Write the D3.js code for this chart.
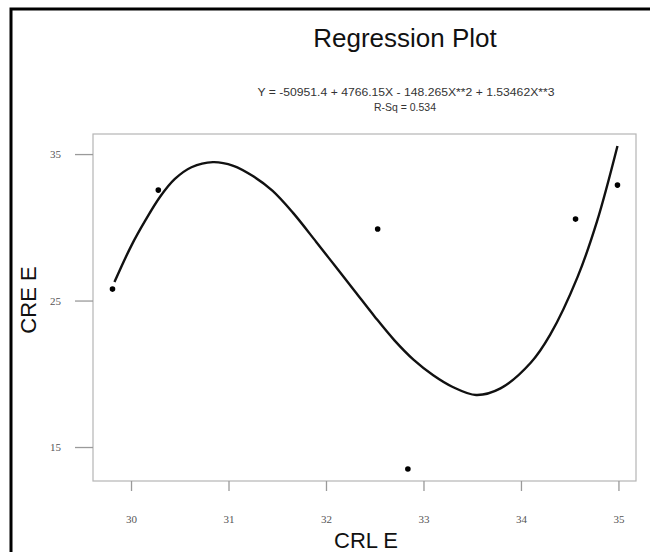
<!DOCTYPE html>
<html>
<head>
<meta charset="utf-8">
<script src="https://cdn.jsdelivr.net/npm/d3@7"></script>
<style>
  body { margin: 0; background: #fff; }
  svg { display: block; font-family: "Liberation Sans", Arial, sans-serif; }
</style>
</head>
<body>
<svg id="chart"></svg>
<script>
// observed points (CRL E, CRE E)
const crlE = [29.81, 30.28, 32.53, 32.84, 34.56, 34.99];
const creE = [25.78, 32.54, 29.88, 13.50, 30.56, 32.88];

// fitted cubic
const fitX = [29.83, 30.00, 30.15, 30.30, 30.45, 30.62, 30.84, 31.05, 31.25, 31.45, 31.66,
              31.90, 32.10, 32.30, 32.50, 32.70, 32.90, 33.10, 33.30, 33.54, 33.79, 34.10,
              34.30, 34.58, 34.78, 34.99];
const fitY = [26.26, 28.70, 30.50, 32.10, 33.30, 34.10, 34.45, 34.20, 33.50, 32.50, 31.00,
              29.00, 27.30, 25.60, 23.90, 22.30, 20.95, 19.90, 19.10, 18.55, 19.00, 20.75,
              22.67, 26.60, 30.40, 35.55];

const xTicks = [30, 31, 32, 33, 34, 35];
const yTicks = [15, 25, 35];

const titleText = "Regression Plot";
const equation = "Y = -50951.4 + 4766.15X - 148.265X**2 + 1.53462X**3";
const rsq = "R-Sq = 0.534";

const W = 650, H = 552;
const plot = { left: 93, right: 636, top: 134, bottom: 481 };

const svg = d3.select("#chart")
    .attr("width", W)
    .attr("height", H);

svg.append("rect")
    .attr("width", W).attr("height", H)
    .attr("fill", "#fff");

// outer black frame of the figure (runs off the right and bottom)
svg.append("rect")
    .attr("x", 11).attr("y", 9)
    .attr("width", 700).attr("height", 600)
    .attr("fill", "none")
    .attr("stroke", "#000")
    .attr("stroke-width", 3);

const x = d3.scaleLinear().domain([29.61, 35.18]).range([plot.left, plot.right]);
const y = d3.scaleLinear().domain([12.68, 36.37]).range([plot.bottom, plot.top]);

// plot box
svg.append("rect")
    .attr("x", plot.left).attr("y", plot.top)
    .attr("width", plot.right - plot.left)
    .attr("height", plot.bottom - plot.top)
    .attr("fill", "none")
    .attr("stroke", "#b5b5b5")
    .attr("stroke-width", 1.2);

// axes
const xAxis = svg.append("g")
    .attr("transform", `translate(0,${plot.bottom})`)
    .call(d3.axisBottom(x).tickValues(xTicks).tickSize(10).tickPadding(24).tickFormat(d3.format("d")));

const yAxis = svg.append("g")
    .attr("transform", `translate(${plot.left},0)`)
    .call(d3.axisLeft(y).tickValues(yTicks).tickSize(18).tickPadding(14).tickFormat(d3.format("d")));

[xAxis, yAxis].forEach(g => {
    g.select(".domain").remove();
    g.selectAll(".tick line").attr("stroke", "#9a9a9a").attr("stroke-width", 1.3);
    g.selectAll(".tick text")
        .attr("fill", "#555")
        .style("font-size", "11px")
        .style("font-family", "'Liberation Serif', serif");
});

// regression curve
const line = d3.line()
    .x(d => x(d[0]))
    .y(d => y(d[1]))
    .curve(d3.curveCatmullRom);

svg.append("path")
    .datum(d3.zip(fitX, fitY))
    .attr("fill", "none")
    .attr("stroke", "#111")
    .attr("stroke-width", 2.4)
    .attr("d", line);

// points
svg.append("g")
    .selectAll("circle")
    .data(d3.zip(crlE, creE))
    .join("circle")
    .attr("cx", d => x(d[0]))
    .attr("cy", d => y(d[1]))
    .attr("r", 2.8)
    .attr("fill", "#000");

// titles
svg.append("text")
    .attr("x", 405).attr("y", 47)
    .attr("text-anchor", "middle")
    .style("font-size", "26px")
    .attr("fill", "#111")
    .text(titleText);

svg.append("text")
    .attr("x", 406).attr("y", 96)
    .attr("text-anchor", "middle")
    .attr("textLength", 297)
    .attr("lengthAdjust", "spacingAndGlyphs")
    .style("font-size", "10.5px")
    .attr("fill", "#333")
    .text(equation);

svg.append("text")
    .attr("x", 405).attr("y", 111)
    .attr("text-anchor", "middle")
    .attr("textLength", 62)
    .attr("lengthAdjust", "spacingAndGlyphs")
    .style("font-size", "10.5px")
    .attr("fill", "#333")
    .text(rsq);

svg.append("text")
    .attr("x", 366).attr("y", 548)
    .attr("text-anchor", "middle")
    .style("font-size", "22px")
    .attr("fill", "#111")
    .text("CRL E");

svg.append("text")
    .attr("transform", "translate(36,300) rotate(-90)")
    .attr("text-anchor", "middle")
    .style("font-size", "22px")
    .attr("fill", "#111")
    .text("CRE E");
</script>
</body>
</html>
